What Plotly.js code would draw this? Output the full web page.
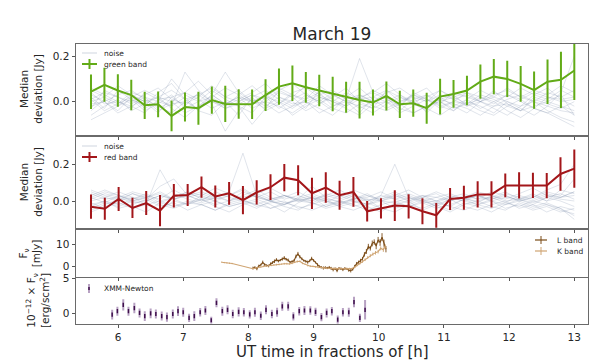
<!DOCTYPE html>
<html><head><meta charset="utf-8">
<script src="https://cdn.plot.ly/plotly-3.0.1.min.js"></script>
<style>html,body{margin:0;padding:0;background:#fff}#chart{width:598px;height:364px}</style>
</head><body><div id="chart"></div>
<script>
// ---------- data ----------
const xTicks = [6, 7, 8, 9, 10, 11, 12, 13];

const greenX = [5.585, 5.791, 5.997, 6.203, 6.409, 6.615, 6.821, 7.027, 7.233, 7.439, 7.645, 7.851, 8.057, 8.263, 8.469, 8.675, 8.881, 9.087, 9.293, 9.499, 9.705, 9.911, 10.117, 10.323, 10.529, 10.735, 10.941, 11.147, 11.353, 11.559, 11.765, 11.971, 12.177, 12.383, 12.589, 12.795, 13.000];
const greenY = [0.044, 0.074, 0.049, 0.029, -0.016, -0.012, -0.063, -0.024, -0.029, 0.007, -0.010, -0.010, -0.012, 0.029, 0.066, 0.081, 0.063, 0.049, 0.034, 0.019, 0.007, -0.004, 0.025, -0.012, -0.007, -0.029, 0.022, 0.034, 0.049, 0.088, 0.110, 0.100, 0.078, 0.051, 0.088, 0.096, 0.137];
const greenErr = [0.076, 0.075, 0.072, 0.067, 0.060, 0.057, 0.068, 0.064, 0.073, 0.060, 0.080, 0.065, 0.065, 0.070, 0.080, 0.078, 0.068, 0.069, 0.076, 0.068, 0.081, 0.057, 0.064, 0.060, 0.060, 0.068, 0.079, 0.061, 0.065, 0.075, 0.078, 0.080, 0.079, 0.082, 0.098, 0.124, 0.130];

const redX = [5.585, 5.797, 6.009, 6.221, 6.432, 6.644, 6.856, 7.068, 7.280, 7.492, 7.704, 7.916, 8.127, 8.339, 8.551, 8.763, 8.975, 9.187, 9.399, 9.611, 9.822, 10.034, 10.246, 10.458, 10.670, 10.882, 11.094, 11.306, 11.517, 11.729, 11.941, 12.153, 12.365, 12.577, 12.788, 13.000];
const redY = [-0.031, -0.042, 0.011, -0.038, -0.011, -0.053, 0.029, 0.033, 0.075, 0.025, 0.042, 0.005, 0.047, 0.075, 0.127, 0.113, 0.042, 0.073, 0.031, 0.049, -0.056, -0.040, -0.025, -0.029, -0.056, -0.078, 0.011, 0.018, 0.036, 0.036, 0.085, 0.085, 0.085, 0.084, 0.147, 0.176];
const redErr = [0.066, 0.060, 0.065, 0.055, 0.065, 0.085, 0.064, 0.060, 0.058, 0.060, 0.062, 0.077, 0.066, 0.070, 0.074, 0.082, 0.085, 0.083, 0.079, 0.081, 0.056, 0.055, 0.084, 0.066, 0.071, 0.067, 0.060, 0.065, 0.072, 0.072, 0.064, 0.071, 0.069, 0.069, 0.091, 0.104];

const noiseGreen = [
 [0.02,-0.03,0.05,0.01,-0.02,0.04,0.08,0.01,-0.04,0.02,0.06,0.03,-0.01,0.00,0.04,0.02,-0.03,0.05,0.01,-0.02,0.03,0.00,0.02,-0.04,0.01,0.03,-0.02,0.00,0.04,0.02,-0.01,0.03,0.00,-0.03,0.02,0.01,-0.02],
 [-0.04,0.01,-0.02,0.03,0.00,-0.05,0.02,0.04,0.01,-0.03,0.00,-0.06,0.02,0.05,0.01,-0.02,0.03,0.00,-0.04,0.02,0.06,0.01,-0.03,0.00,0.02,-0.05,0.01,0.03,-0.02,0.00,0.05,-0.01,-0.04,0.02,0.00,0.03,-0.06],
 [0.06,0.03,0.00,-0.03,0.04,0.01,-0.02,0.13,0.05,0.00,-0.02,0.03,0.07,0.02,-0.03,0.01,0.04,-0.01,0.02,0.06,0.00,-0.03,0.05,0.02,-0.01,0.03,0.00,-0.04,0.01,0.05,0.02,0.00,-0.02,0.03,0.06,0.01,0.02],
 [-0.08,-0.05,-0.02,0.01,-0.04,-0.01,0.03,-0.03,0.00,0.05,0.01,-0.02,-0.05,0.02,0.00,-0.03,0.01,0.04,-0.02,0.00,-0.05,0.02,0.00,0.03,-0.01,-0.04,0.02,-0.02,-0.05,0.00,-0.03,-0.06,-0.02,0.00,-0.04,-0.07,-0.09],
 [0.01,0.04,0.02,-0.01,0.02,-0.03,0.00,0.04,0.09,0.03,-0.01,0.02,0.00,-0.03,0.05,0.08,0.03,0.00,0.04,0.01,0.19,0.04,0.01,-0.02,0.03,0.00,0.05,0.02,-0.01,0.01,0.04,0.02,0.06,0.03,0.01,0.05,0.02],
 [-0.02,0.00,0.03,0.05,0.01,-0.02,-0.05,0.00,0.03,-0.01,-0.13,-0.04,0.01,-0.02,0.02,0.00,-0.04,-0.01,0.03,0.00,-0.02,-0.05,-0.01,0.02,0.00,-0.03,-0.06,-0.02,0.01,-0.03,0.00,-0.04,-0.07,-0.03,-0.05,-0.02,-0.04],
 [0.03,0.00,-0.04,0.02,0.05,0.02,0.00,-0.05,-0.02,0.03,0.13,0.04,0.00,0.03,-0.01,0.04,0.06,0.02,0.00,-0.02,0.01,0.05,0.02,-0.01,0.03,0.06,0.00,0.02,0.04,0.00,-0.02,0.01,0.03,0.00,-0.02,0.04,0.20],
 [-0.06,-0.02,0.01,-0.04,-0.01,0.02,-0.03,-0.07,-0.02,0.01,-0.03,0.00,0.03,-0.01,-0.05,-0.02,0.00,-0.03,-0.06,-0.01,0.02,-0.02,-0.04,-0.01,-0.05,-0.02,0.00,-0.03,-0.01,-0.04,-0.06,-0.02,0.01,-0.03,-0.05,-0.08,-0.11],
 [0.00,0.02,-0.01,0.04,0.02,0.00,0.10,0.03,0.00,0.02,-0.02,0.01,0.04,0.08,0.02,-0.01,0.00,0.03,0.05,0.01,0.03,0.00,0.04,0.06,0.02,0.00,0.03,0.01,-0.02,0.02,0.00,0.03,0.01,0.04,0.02,0.00,0.01],
 [0.04,-0.01,0.00,-0.02,-0.05,0.01,0.02,-0.02,0.04,0.00,-0.03,-0.01,0.02,-0.04,-0.01,0.03,0.00,-0.05,-0.02,0.01,-0.03,0.00,0.02,-0.02,0.04,0.01,-0.03,0.00,-0.01,0.03,0.01,-0.02,-0.04,0.01,-0.01,-0.03,0.00],
 [-0.03,0.05,0.02,0.00,0.03,0.06,0.01,-0.01,0.02,0.07,0.02,0.05,0.00,0.02,0.06,0.03,0.01,0.07,0.03,0.00,0.02,0.04,0.08,0.03,0.00,0.02,0.05,0.01,0.03,0.00,0.02,0.06,0.02,0.05,0.03,0.07,0.04],
 [0.01,-0.04,-0.01,0.02,-0.03,0.00,-0.02,0.02,-0.04,-0.06,0.00,-0.02,-0.10,-0.03,0.00,-0.06,-0.02,0.01,-0.03,-0.05,-0.01,-0.03,0.00,-0.05,-0.02,0.01,-0.02,-0.04,0.00,-0.02,-0.05,0.00,-0.03,-0.06,-0.02,-0.04,-0.05],
 [0.05,0.02,0.07,0.03,0.00,0.02,0.05,0.01,0.03,0.06,0.02,0.00,0.03,0.01,0.05,0.02,0.07,0.03,0.00,0.04,0.01,0.02,0.05,0.00,0.03,0.01,-0.01,0.04,0.02,0.00,0.03,0.05,0.02,0.00,0.04,0.02,0.05],
 [-0.01,0.00,-0.05,-0.02,0.01,-0.04,-0.01,0.00,-0.03,0.03,-0.01,0.02,-0.03,0.00,-0.02,-0.05,-0.01,0.02,0.00,-0.03,-0.06,-0.01,0.00,-0.03,-0.05,-0.02,0.01,-0.01,-0.03,-0.06,-0.02,-0.01,-0.04,-0.02,0.00,-0.02,-0.06]
];

const noiseRed = [
 [0.02,-0.01,0.03,0.00,-0.02,0.17,0.04,0.01,-0.01,0.02,0.05,0.26,0.03,0.00,-0.02,0.01,0.03,0.00,-0.02,0.01,0.04,0.00,-0.01,0.02,0.00,-0.03,0.01,0.02,-0.01,0.03,0.00,0.01,-0.02,0.02,0.04,0.01],
 [-0.03,0.00,-0.02,0.01,0.03,-0.01,0.02,0.05,0.01,-0.02,0.00,0.03,0.06,0.02,-0.01,0.00,0.02,-0.03,-0.01,0.01,-0.02,0.03,0.20,0.02,-0.01,0.00,-0.03,0.01,0.03,0.00,-0.02,0.01,-0.01,0.02,0.00,-0.03],
 [0.05,0.02,0.00,0.04,0.01,0.08,0.12,0.03,0.00,0.05,0.02,0.00,0.04,0.07,0.03,0.01,0.00,0.03,0.01,0.04,0.00,0.02,0.05,0.01,0.03,0.00,0.02,0.04,0.01,0.05,0.03,0.00,0.02,0.06,0.09,0.20],
 [-0.05,-0.02,0.01,-0.03,-0.06,-0.01,-0.03,0.00,-0.02,-0.05,-0.01,0.01,-0.03,-0.01,0.00,-0.04,-0.02,0.01,-0.03,-0.05,-0.02,0.00,-0.04,-0.02,0.01,-0.03,-0.06,-0.02,0.00,-0.03,-0.05,-0.01,-0.04,-0.02,-0.05,-0.07],
 [0.01,0.04,0.02,-0.01,0.00,0.03,0.01,0.04,0.02,0.00,0.03,0.06,0.02,0.00,0.03,0.01,0.08,0.02,-0.01,0.01,0.03,0.00,0.02,0.04,0.01,-0.01,0.02,0.00,0.03,0.01,0.04,0.02,0.00,0.03,0.01,0.00],
 [-0.01,-0.04,0.00,0.02,-0.02,-0.05,0.00,-0.02,0.03,0.00,-0.03,-0.01,0.01,-0.02,-0.06,-0.01,0.02,0.00,-0.03,-0.01,0.01,-0.04,-0.02,0.00,-0.05,-0.02,0.01,-0.03,-0.05,-0.02,0.00,-0.04,-0.02,-0.06,-0.03,-0.05],
 [0.03,0.06,0.03,0.01,0.04,0.00,0.02,0.05,0.03,0.07,0.04,0.01,0.03,0.00,0.02,0.05,0.01,0.03,0.06,0.02,0.00,0.03,0.01,-0.01,0.02,0.04,0.00,0.02,0.05,0.03,0.01,0.04,0.07,0.03,0.02,0.05],
 [-0.04,-0.01,-0.03,0.00,0.02,-0.02,-0.04,-0.01,0.01,-0.03,-0.06,-0.02,0.00,-0.04,-0.02,0.01,-0.01,-0.04,-0.02,0.00,-0.03,-0.06,-0.01,-0.03,0.00,-0.02,-0.05,-0.01,-0.03,-0.06,-0.02,0.00,-0.03,-0.01,-0.04,-0.10],
 [0.00,0.02,0.05,0.02,0.00,0.03,0.01,-0.02,0.01,0.03,0.00,0.05,0.02,0.00,-0.02,0.02,0.04,0.01,0.00,0.03,0.01,0.00,0.03,0.06,0.02,0.00,0.03,0.01,0.00,0.02,0.05,0.01,0.04,0.00,0.02,0.03],
 [0.06,0.03,0.01,0.04,0.02,0.05,0.01,0.03,0.00,0.02,0.04,0.00,-0.02,0.01,0.03,0.00,0.02,-0.01,0.03,0.00,-0.02,0.01,0.03,0.00,0.02,0.05,0.02,0.00,-0.02,0.01,0.03,0.00,0.02,0.05,0.03,0.12],
 [-0.02,0.00,-0.04,-0.02,0.01,-0.03,-0.01,-0.05,-0.02,0.00,-0.03,-0.01,-0.04,0.00,-0.03,-0.05,-0.01,-0.03,0.00,-0.02,-0.05,-0.02,0.00,-0.03,-0.01,-0.04,-0.02,0.01,-0.02,-0.04,-0.01,-0.03,0.00,-0.02,-0.04,-0.08],
 [0.02,0.05,0.03,0.00,0.02,0.04,0.01,0.03,0.05,0.02,0.00,0.02,0.04,0.01,0.03,0.00,-0.01,0.02,0.04,0.01,0.02,0.05,0.01,0.03,0.00,0.02,0.04,0.01,0.03,0.00,0.02,0.01,0.03,0.00,0.06,0.04],
 [-0.06,-0.03,-0.01,-0.04,-0.02,0.00,-0.03,-0.01,-0.02,-0.05,-0.02,0.00,-0.02,-0.04,-0.01,-0.03,-0.05,-0.02,0.00,-0.03,-0.01,-0.04,-0.06,-0.02,-0.04,-0.01,-0.03,-0.05,-0.02,0.00,-0.04,-0.02,-0.05,-0.03,-0.06,-0.04],
 [0.04,0.01,0.02,0.05,0.03,0.01,0.06,0.02,0.04,0.01,0.03,0.07,0.02,0.05,0.01,0.03,0.00,0.04,0.02,0.06,0.03,0.01,0.04,0.00,0.03,0.02,0.00,0.03,0.01,0.02,-0.01,0.03,0.01,0.04,0.02,0.05]
];

const lBandX = [8.07, 8.10, 8.13, 8.16, 8.19, 8.22, 8.25, 8.28, 8.31, 8.34, 8.37, 8.40, 8.43, 8.46, 8.49, 8.52, 8.55, 8.58, 8.61, 8.64, 8.67, 8.70, 8.73, 8.76, 8.79, 8.82, 8.85, 8.88, 8.91, 8.94, 8.97, 9.00, 9.03, 9.06, 9.09, 9.12, 9.15, 9.18, 9.21, 9.24, 9.27, 9.30, 9.33, 9.36, 9.39, 9.42, 9.45, 9.48, 9.51, 9.54, 9.57, 9.60, 9.63, 9.66, 9.69, 9.72, 9.75, 9.78, 9.81, 9.84, 9.87, 9.90, 9.93, 9.96, 9.99, 10.02, 10.05, 10.08, 10.11];
const lBandY = [-0.6, -0.3, -0.9, 0.3, 0.8, 1.9, 0.9, 0.5, 0.3, 1.2, 1.8, 2.4, 3.1, 2.5, 2.9, 3.4, 3.9, 3.3, 2.9, 2.0, 2.3, 2.6, 4.6, 5.7, 4.4, 3.5, 2.7, 2.4, 2.0, 2.6, 3.6, 2.8, 1.9, 0.8, 0.0, -0.3, -0.6, -0.4, -0.6, -0.3, -0.8, -1.3, -0.9, -1.8, -0.7, -0.9, -1.3, -0.8, -1.0, -1.6, -1.8, -1.2, 0.1, 1.3, 2.0, 2.6, 3.5, 5.5, 6.8, 9.0, 8.2, 10.4, 11.0, 9.2, 12.0, 10.8, 13.2, 10.5, 7.8];
const lBandErr = [0.6,0.5,0.7,0.6,0.5,0.8,0.6,0.5,0.6,0.7, 0.6,0.8,0.7,0.6,0.5,0.7,0.8,0.6,0.7,0.5, 0.6,0.7,0.8,0.9,0.7,0.6,0.5,0.6,0.7,0.6, 0.8,0.6,0.5,0.7,0.6,0.5,0.7,0.6,0.5,0.6, 0.7,0.8,0.6,0.7,0.5,0.6,0.7,0.6,0.5,0.7, 0.8,0.6,0.7,0.8,0.7,0.9,0.8,1.0,1.1,1.2, 1.0,1.3,1.2,1.4,1.3,1.5,1.8,1.6,1.4];

const kBandX = [7.59, 7.63, 7.67, 7.71, 7.75, 8.07, 8.11, 8.15, 8.19, 8.23, 8.27, 8.31, 8.35, 8.39, 8.43, 8.47, 8.51, 8.55, 8.59, 8.63, 8.67, 8.71, 8.75, 8.79, 8.83, 8.87, 8.91, 8.95, 8.99, 9.03, 9.07, 9.11, 9.15, 9.19, 9.23, 9.27, 9.31, 9.35, 9.39, 9.43, 9.47, 9.51, 9.55, 9.59, 9.63, 9.67, 9.71, 9.75, 9.79, 9.83, 9.87, 9.91, 9.95, 9.99, 10.03, 10.07, 10.10];
const kBandY = [2.0, 1.8, 1.7, 1.5, 1.4, -0.9, -0.6, -0.3, 0.0, 0.2, 0.3, 0.4, 0.6, 0.8, 0.9, 1.0, 1.1, 1.3, 1.3, 1.2, 1.5, 2.0, 2.3, 2.4, 1.5, 1.1, 0.5, 0.2, 0.1, -0.1, -0.3, -0.5, -0.6, -0.6, -0.7, -0.9, -0.9, -0.8, -0.9, -1.0, -0.9, -1.0, -0.9, -0.8, -0.3, 0.6, 1.4, 2.2, 3.1, 4.1, 4.9, 5.6, 6.2, 6.7, 8.2, 7.6, 9.0];
const kBandErr = [0.3,0.3,0.3,0.3,0.3, 0.4,0.4,0.3,0.4,0.4,0.3,0.4,0.4,0.3,0.4, 0.4,0.3,0.4,0.4,0.3,0.4,0.4,0.5,0.4,0.4, 0.3,0.4,0.4,0.3,0.4,0.4,0.3,0.4,0.4,0.3, 0.4,0.4,0.3,0.4,0.4,0.3,0.4,0.4,0.3,0.4, 0.4,0.5,0.5,0.6,0.6,0.7,0.7,0.8,0.8,0.9, 1.0,1.0];

const xmmX = [5.91, 5.99, 6.08, 6.16, 6.25, 6.33, 6.41, 6.50, 6.58, 6.67, 6.75, 6.84, 6.92, 7.00, 7.09, 7.17, 7.26, 7.34, 7.43, 7.51, 7.60, 7.68, 7.76, 7.85, 7.93, 8.02, 8.10, 8.19, 8.27, 8.36, 8.44, 8.52, 8.61, 8.69, 8.78, 8.86, 8.95, 9.03, 9.12, 9.20, 9.28, 9.37, 9.45, 9.54, 9.62, 9.71, 9.79];
const xmmY = [-0.2, 0.3, 1.2, 0.3, 0.75, 0.05, -0.4, 0.0, -0.1, -0.4, -0.55, -0.1, 0.3, 0.15, -0.65, -0.4, 0.15, 0.4, -1.0, 1.5, 0.3, 0.5, -0.1, 0.2, 0.15, -0.15, 0.15, -0.35, 0.5, -0.1, 0.15, 1.0, 1.0, -0.45, 0.3, 0.4, 0.4, 0.2, -0.55, 0.05, 0.3, -0.9, 0.15, 0.15, 1.6, -0.65, 0.5];
const xmmErr = [0.7,0.65,0.8,0.65,0.75,0.65,0.7,0.7,0.65,0.65, 0.65,0.65,0.7,0.65,0.6,0.7,0.6,0.65,0.5,0.65, 0.65,0.65,0.6,0.65,0.6,0.6,0.65,0.6,0.65,0.6, 0.65,0.65,0.65,0.6,0.6,0.65,0.6,0.6,0.6,0.65, 0.6,0.6,0.6,0.65,0.75,0.6,1.4];

const legendNames = {noise: 'noise', green: 'green band', red: 'red band', l: 'L band', k: 'K band', xmm: 'XMM-Newton'};

// ---------- styling ----------
const GREEN = '#62ab17', RED = '#a3161a', LBROWN = '#7b4b16', KTAN = '#cfa472';
const XMMDARK = '#3f0f4c', XMMBAR = 'rgba(125,85,145,0.55)';
const NOISE = 'rgba(120,138,165,0.33)';
const FONT = 'DejaVu Sans, sans-serif';
const TXT = '#262626';
const W = 598, H = 364;

const traces = [];
noiseGreen.forEach((ys) => traces.push({x: greenX, y: ys, xaxis: 'x', yaxis: 'y', mode: 'lines',
  line: {color: NOISE, width: 0.7}, name: legendNames.noise, hoverinfo: 'skip'}));
traces.push({x: greenX, y: greenY, xaxis: 'x', yaxis: 'y', mode: 'lines', name: legendNames.green,
  line: {color: GREEN, width: 2}, error_y: {type: 'data', array: greenErr, color: GREEN, thickness: 2, width: 0}});

noiseRed.forEach((ys) => traces.push({x: redX, y: ys, xaxis: 'x2', yaxis: 'y2', mode: 'lines',
  line: {color: NOISE, width: 0.7}, name: legendNames.noise, hoverinfo: 'skip'}));
traces.push({x: redX, y: redY, xaxis: 'x2', yaxis: 'y2', mode: 'lines', name: legendNames.red,
  line: {color: RED, width: 2}, error_y: {type: 'data', array: redErr, color: RED, thickness: 2, width: 0}});

traces.push({x: lBandX, y: lBandY, xaxis: 'x3', yaxis: 'y3', mode: 'lines', name: legendNames.l,
  line: {color: LBROWN, width: 1.1}, error_y: {type: 'data', array: lBandErr, color: LBROWN, thickness: 0.9, width: 0}});
traces.push({x: kBandX, y: kBandY, xaxis: 'x3', yaxis: 'y3', mode: 'lines', name: legendNames.k,
  line: {color: KTAN, width: 1.1}, error_y: {type: 'data', array: kBandErr, color: KTAN, thickness: 0.9, width: 0}});

traces.push({x: xmmX, y: xmmY, xaxis: 'x4', yaxis: 'y4', mode: 'markers', name: legendNames.xmm,
  marker: {symbol: 'line-ns-open', size: 3, color: XMMDARK, line: {color: XMMDARK, width: 1.5}},
  error_y: {type: 'data', array: xmmErr, color: XMMBAR, thickness: 2, width: 0}});

// ---------- layout ----------
const XDOM = [76 / W, 588 / W];
const dom = (top, bot) => [(H - bot) / H, (H - top) / H];
const px = (v) => v / W, py = (v) => (H - v) / H;
const xBase = {range: [5.355, 13.21], tickvals: xTicks, ticks: 'outside', ticklen: 3.5, tickwidth: 1, tickcolor: '#555',
  showline: true, mirror: true, linecolor: '#6a6a6a', linewidth: 1, showgrid: false, zeroline: false, domain: XDOM,
  tickfont: {family: FONT, size: 10.5, color: TXT}, fixedrange: true};
const yBase = {ticks: 'outside', ticklen: 3.5, tickwidth: 1, tickcolor: '#555', showline: true, mirror: true,
  linecolor: '#6a6a6a', linewidth: 1, showgrid: false, zeroline: false, tickfont: {family: FONT, size: 10.5, color: TXT}, fixedrange: true};

const ytitle = (text, xp, top, bot) => ({text: text, xref: 'paper', yref: 'paper', x: px(xp), y: py((top + bot) / 2),
  xanchor: 'center', yanchor: 'middle', textangle: -90, showarrow: false, font: {family: FONT, size: 10.5, color: TXT}});
const legText = (text, xp, yp) => ({text: text, xref: 'paper', yref: 'paper', x: px(xp), y: py(yp), xanchor: 'left', yanchor: 'middle',
  showarrow: false, font: {family: FONT, size: 7.5, color: TXT}});
const seg = (x0, y0, x1, y1, color, width) => ({type: 'line', xref: 'paper', yref: 'paper', x0: px(x0), y0: py(y0), x1: px(x1), y1: py(y1),
  line: {color: color, width: width}});

const layout = {
  width: W, height: H, margin: {l: 0, r: 0, t: 0, b: 0}, paper_bgcolor: '#fff', plot_bgcolor: '#fff',
  showlegend: false,
  title: {text: 'March 19', x: px(332), xanchor: 'center', y: py(34), yanchor: 'middle', xref: 'paper', yref: 'paper',
    font: {family: FONT, size: 17, color: TXT}},
  xaxis: Object.assign({}, xBase, {anchor: 'y', showticklabels: false}),
  xaxis2: Object.assign({}, xBase, {anchor: 'y2', showticklabels: false}),
  xaxis3: Object.assign({}, xBase, {anchor: 'y3', showticklabels: false}),
  xaxis4: Object.assign({}, xBase, {anchor: 'y4', showticklabels: true}),
  yaxis: Object.assign({}, yBase, {anchor: 'x', domain: dom(43.5, 135), range: [-0.147, 0.256], tickvals: [0, 0.2], ticktext: ['0.0', '0.2']}),
  yaxis2: Object.assign({}, yBase, {anchor: 'x2', domain: dom(136.7, 228), range: [-0.147, 0.35], tickvals: [0, 0.2], ticktext: ['0.0', '0.2']}),
  yaxis3: Object.assign({}, yBase, {anchor: 'x3', domain: dom(230, 276.7), range: [-4.5, 16.4], tickvals: [0, 10]}),
  yaxis4: Object.assign({}, yBase, {anchor: 'x4', domain: dom(278.3, 323.7), range: [-1.49, 5], tickvals: [0, 5]}),
  shapes: [
    // legend samples
    seg(82, 53, 97, 53, 'rgba(120,138,165,0.45)', 0.8),
    seg(82, 64, 97, 64, GREEN, 2), seg(89.5, 59, 89.5, 69, GREEN, 2),
    seg(82, 146, 97, 146, 'rgba(120,138,165,0.45)', 0.8),
    seg(82, 157, 97, 157, RED, 2), seg(89.5, 152, 89.5, 162, RED, 2),
    seg(535, 240, 547, 240, LBROWN, 1.2), seg(541, 236, 541, 244, LBROWN, 1),
    seg(535, 251, 547, 251, KTAN, 1.2), seg(541, 247, 541, 255, KTAN, 1),
    seg(89, 284, 89, 293, XMMBAR, 2), seg(89, 287, 89, 290, XMMDARK, 1.5)
  ],
  annotations: [
    ytitle('Median<br>deviation [Jy]', 31.5, 43.5, 135),
    ytitle('Median<br>deviation [Jy]', 31.5, 136.7, 228),
    ytitle('F<sub>ν</sub><br>[mJy]', 30, 230, 276.7),
    ytitle('10<sup>−12</sup> × F<sub>ν</sub><br>[erg/scm<sup>2</sup>]', 37, 278.3, 323.7),
    {text: 'UT time in fractions of [h]', xref: 'paper', yref: 'paper', x: px(332), y: py(352), xanchor: 'center', yanchor: 'middle',
      showarrow: false, font: {family: FONT, size: 15, color: TXT}},
    legText(legendNames.noise, 102, 53), legText(legendNames.green, 102, 64),
    legText(legendNames.noise, 102, 146), legText(legendNames.red, 102, 157),
    legText(legendNames.l, 555, 240), legText(legendNames.k, 555, 251),
    legText(legendNames.xmm, 102, 288)
  ]
};

Plotly.newPlot('chart', traces, layout, {staticPlot: true, displayModeBar: false});
</script>
</body></html>
